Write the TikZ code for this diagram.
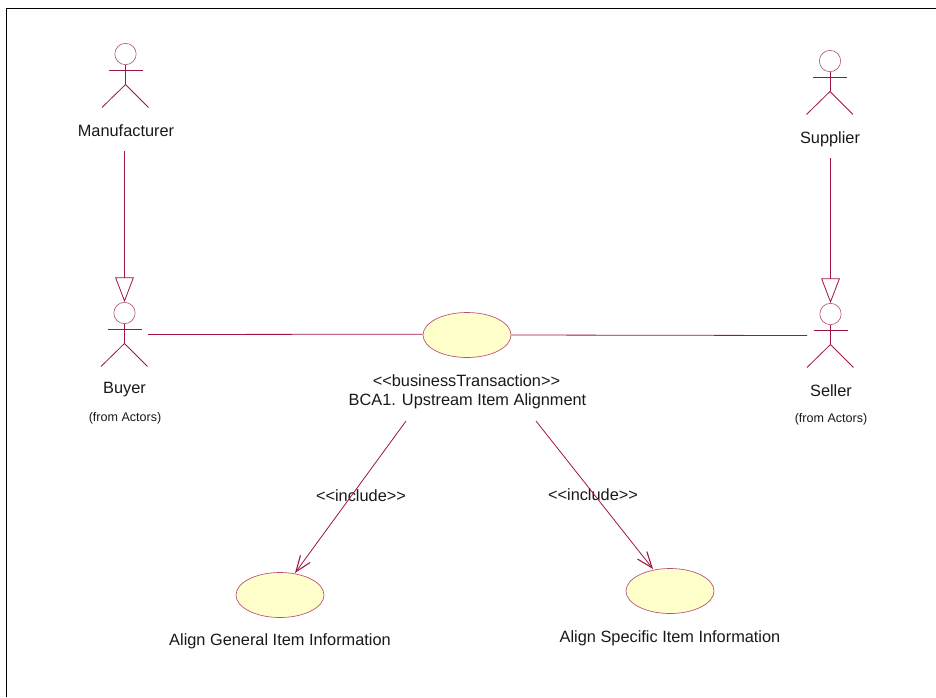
\documentclass[tikz,border=0pt]{standalone}
\usepackage{fontspec}
\setmainfont{Liberation Sans}
\usetikzlibrary{arrows.meta,shapes.geometric}
\definecolor{umlline}{RGB}{160,20,70}
\definecolor{umlfill}{RGB}{255,255,204}
\tikzset{
  wire/.style={draw=umlline,line width=0.6pt},
  lbl/.style={font=\fontsize{12.25pt}{15pt}\selectfont,text=black!90,inner sep=0pt,align=center},
  small/.style={font=\fontsize{9.4pt}{11pt}\selectfont,text=black!90,inner sep=0pt},
  usecase/.style={ellipse,draw=umlline!75,fill=umlfill,line width=0.5pt,minimum width=66pt,minimum height=33.75pt,inner sep=0pt},
  head/.style={circle,draw=umlline!75,line width=0.45pt,minimum size=16pt,inner sep=0pt},
  incl/.style={wire,-{Straight Barb[length=12pt,width=9pt,line width=0.8pt]}},
  gen/.style={wire,-{Triangle[open,length=18.5pt,width=14pt,line width=0.6pt]}}
}
\newcommand{\actor}[2]{%
  \node[head] (#1) at (#2) {};
  \draw[wire] (#1.south) -- ++(0,19.5) coordinate (#1hip);
  \draw[wire] ([yshift=-4pt]#1.south) ++(-17,0) -- ++(34,0);
  \draw[wire] (#1hip) -- ++(-23.5,23);
  \draw[wire] (#1hip) -- ++(23,23);
}
\begin{document}
\begin{tikzpicture}[x=0.75pt,y=-0.75pt]
\useasboundingbox (0,0) rectangle (936,697);
\fill[white] (0,0) rectangle (936,697);
\draw[black,line width=1.1pt] (6.5,697) -- (6.5,8.5) -- (936,8.5);
\actor{mh}{125.5,54}
\actor{sh}{830,61}
\actor{bh}{124.5,313}
\actor{eh}{830.5,314}
\node[lbl] (manu) at (126,130.5) {Manufacturer};
\node[lbl] (supp) at (830,139) {Supplier};
\node[lbl] (buyer) at (124.5,390) {Buyer};
\node[small] (bfrom) at (125,418.5) {(from Actors)};
\node[lbl] (seller) at (831,391) {Seller};
\node[small] (sfrom) at (831,419.5) {(from Actors)};
\node[usecase] (bca) at (467,335) {};
\node[usecase] (gen) at (280,595) {};
\node[usecase] (spec) at (670,591) {};
\node[lbl] (bcat) at (466.5,381) {<{}<businessTransaction>{}>};
\node[lbl] (bcan) at (467.5,401.5) {BCA1. Upstream Item Alignment};
\node[lbl] (gent) at (280,641.5) {Align General Item Information};
\node[lbl] (spect) at (670,638) {Align Specific Item Information};
\node[lbl] (i1) at (361,495.5) {<{}<include>{}>};
\node[lbl] (i2) at (593,495) {<{}<include>{}>};
\coordinate (mstart) at (124.5,151);
\coordinate (sstart) at (830.5,158);
\coordinate (bline) at (148,334.5);
\coordinate (eline) at (807,335.5);
\coordinate (a1) at (406,421);
\coordinate (a2) at (536,421);
\draw[gen] (mstart) -- (bh.north);
\draw[gen] (sstart) -- (eh.north);
\draw[wire] (bline) -- ([yshift=0.6pt]bca.west);
\draw[wire] (bca.east) -- (eline);
\draw[incl] (a1) -- (295,573);
\draw[incl] (a2) -- (653,569);
\end{tikzpicture}
\end{document}
